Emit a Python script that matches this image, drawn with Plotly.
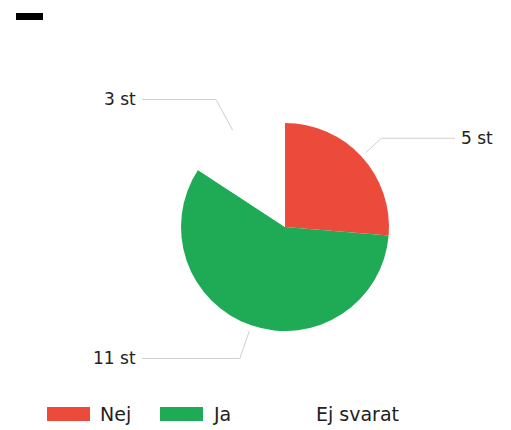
import math
import plotly.graph_objects as go

# ---- data ----
categories = ["Nej", "Ja", "Ej svarat"]
values = [5, 11, 3]
value_labels = ["5 st", "11 st", "3 st"]
colors = ["#EC4A3B", "#1FAA56", "#FFFFFF"]

# ---- layout constants (pixels) ----
W, H = 511, 430
CX, CY, R = 285, 227, 104
R_START = R + 6
R_ELBOW = [131, 139, 145]
LEFT_COL, RIGHT_COL = 142, 455
LEGEND_X = [47, 160, 263]
LEGEND_Y = 414
SW_W, SW_H = 43, 14
FONT = "DejaVu Sans"
TXT = "#222222"


def px(x):
    return x / W


def py(y):
    return 1 - y / H


fig = go.Figure()
fig.add_trace(go.Pie(
    labels=categories,
    values=values,
    marker=dict(colors=colors, line=dict(width=0)),
    sort=False,
    direction="clockwise",
    rotation=0,
    textinfo="none",
    hoverinfo="label+value",
    showlegend=False,
    domain=dict(x=[px(CX - R), px(CX + R)], y=[py(CY + R), py(CY - R)]),
))

shapes = []
annotations = []
total = sum(values)
cum = 0
for cat, v, lab, re in zip(categories, values, value_labels, R_ELBOW):
    mid = (cum + v / 2) / total * 2 * math.pi
    cum += v
    s, c = math.sin(mid), math.cos(mid)
    x1, y1 = CX + R_START * s, CY - R_START * c
    x2, y2 = CX + re * s, CY - re * c
    if s >= 0:
        x3 = RIGHT_COL
        anchor, tx = "left", RIGHT_COL + 4
    else:
        x3 = LEFT_COL
        anchor, tx = "right", LEFT_COL - 4
    shapes.append(dict(type="path", xref="paper", yref="paper",
                       path=f"M{px(x1)},{py(y1)} L{px(x2)},{py(y2)} L{px(x3)},{py(y2)}",
                       line=dict(color="#CFCFCF", width=1)))
    annotations.append(dict(x=px(tx), y=py(y2), xref="paper", yref="paper",
                            text=lab, showarrow=False, xanchor=anchor, yanchor="middle",
                            font=dict(family=FONT, size=17, color=TXT)))

# custom legend
for cat, col, lx in zip(categories, colors, LEGEND_X):
    shapes.append(dict(type="rect", xref="paper", yref="paper",
                       x0=px(lx), x1=px(lx + SW_W), y0=py(LEGEND_Y + SW_H / 2), y1=py(LEGEND_Y - SW_H / 2),
                       fillcolor=col, line=dict(width=0)))
    annotations.append(dict(x=px(lx + SW_W + 8), y=py(LEGEND_Y), xref="paper", yref="paper",
                            text=cat, showarrow=False, xanchor="left", yanchor="middle",
                            font=dict(family=FONT, size=19, color=TXT)))

# small black title bar
shapes.append(dict(type="rect", xref="paper", yref="paper",
                   x0=px(16), x1=px(43), y0=py(20), y1=py(13),
                   fillcolor="#000000", line=dict(width=0)))

fig.update_layout(
    width=W, height=H,
    margin=dict(l=0, r=0, t=0, b=0),
    paper_bgcolor="white", plot_bgcolor="white",
    shapes=shapes, annotations=annotations,
    showlegend=False,
)

fig.write_html("out.html", config={"displayModeBar": False},
               post_script="document.body.style.margin='0';document.body.style.overflow='hidden';")
